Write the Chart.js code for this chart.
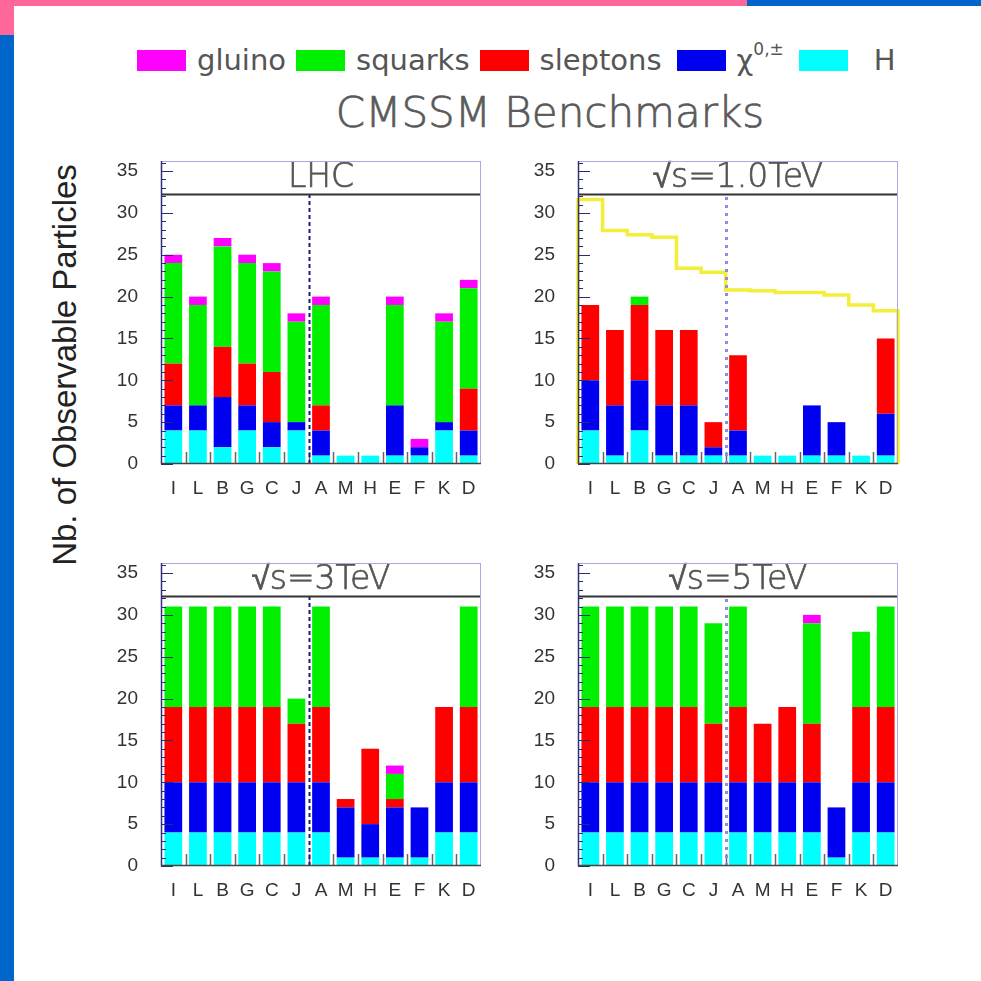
<!DOCTYPE html>
<html>
<head>
<meta charset="utf-8">
<script src="https://cdn.jsdelivr.net/npm/chart.js@4.4.1/dist/chart.umd.min.js"></script>
<style>
  html, body { margin: 0; padding: 0; background: #fff; }
  body { width: 981px; height: 981px; position: relative; overflow: hidden; }
  .bar { position: absolute; }
  .legend { position: absolute; left: 137px; top: 44px; display: flex; align-items: center;
            font-family: 'DejaVu Sans', sans-serif; font-size: 29px; color: #555; height: 32px; }
  .legend .sw { width: 49px; height: 21px; margin-right: 11px; }
  .legend .tx { margin-right: 10px; white-space: nowrap; }
  .legend sup { font-size: 17px; position: relative; top: -4px; }
  .main-title { position: absolute; left: 0; width: 1100px; top: 88px; text-align: center;
                font-family: 'DejaVu Sans', sans-serif; font-weight: 200; font-size: 42px; color: #5a5a5a;
                -webkit-text-stroke: 0.7px #5a5a5a; }
  .ytitle { position: absolute; left: 65px; top: 365px; transform: translate(-50%, -50%) rotate(-90deg);
            font-family: 'Liberation Sans', Arial, sans-serif; font-size: 33px; color: #222; white-space: nowrap; }
  .panel { position: absolute; }
</style>
</head>
<body>
<div class="bar" style="left:0;top:0;width:747px;height:6px;background:#ff6699"></div>
<div class="bar" style="left:747px;top:0;width:234px;height:6px;background:#0066cc"></div>
<div class="bar" style="left:0;top:0;width:14px;height:35px;background:#ff6699"></div>
<div class="bar" style="left:0;top:35px;width:14px;height:946px;background:#0066cc"></div>

<div class="legend">
  <div class="sw" style="background:#ff00ff"></div><span class="tx">gluino</span>
  <div class="sw" style="background:#00f000"></div><span class="tx">squarks</span>
  <div class="sw" style="background:#ff0000"></div><span class="tx" style="margin-right:15px">sleptons</span>
  <div class="sw" style="background:#0000f0"></div><span class="tx" style="margin-right:15px">χ<sup>0,±</sup></span>
  <div class="sw" style="background:#00ffff;margin-right:26px"></div><span class="tx">H</span>
</div>
<div class="main-title">CMSSM Benchmarks</div>
<div class="ytitle">Nb. of Observable Particles</div>

<div class="panel" style="left:91px;top:156px"><canvas id="pLHC" width="395" height="348"></canvas></div>
<div class="panel" style="left:508px;top:156px"><canvas id="p1TeV" width="395" height="348"></canvas></div>
<div class="panel" style="left:91px;top:558px"><canvas id="p3TeV" width="395" height="348"></canvas></div>
<div class="panel" style="left:508px;top:558px"><canvas id="p5TeV" width="395" height="348"></canvas></div>

<script>
// benchmark points, grouped: I..J | A..D
const categories = ['I', 'L', 'B', 'G', 'C', 'J', 'A', 'M', 'H', 'E', 'F', 'K', 'D'];
const groupSplit = 6; // first index of second group (A)
const yTicks = [0, 5, 10, 15, 20, 25, 30, 35];

// LHC
const lhcHiggs    = [4, 4, 2, 4, 2, 4, 1, 1, 1, 1, 1, 4, 1];
const lhcChi      = [3, 3, 6, 3, 3, 1, 3, 0, 0, 6, 1, 1, 3];
const lhcSleptons = [5, 0, 6, 5, 6, 0, 3, 0, 0, 0, 0, 0, 5];
const lhcSquarks  = [12, 12, 12, 12, 12, 12, 12, 0, 0, 12, 0, 12, 12];
const lhcGluino   = [1, 1, 1, 1, 1, 1, 1, 0, 0, 1, 1, 1, 1];

// sqrt(s) = 1.0 TeV
const tev1Higgs    = [4, 1, 4, 1, 1, 1, 1, 1, 1, 1, 1, 1, 1];
const tev1Chi      = [6, 6, 6, 6, 6, 1, 3, 0, 0, 6, 4, 0, 5];
const tev1Sleptons = [9, 9, 9, 9, 9, 3, 9, 0, 0, 0, 0, 0, 9];
const tev1Squarks  = [0, 0, 1, 0, 0, 0, 0, 0, 0, 0, 0, 0, 0];
const tev1Gluino   = [0, 0, 0, 0, 0, 0, 0, 0, 0, 0, 0, 0, 0];
// total particle count reference (yellow outline)
const tev1Total    = [31.6, 27.9, 27.4, 27.1, 23.4, 22.9, 20.8, 20.7, 20.5, 20.5, 20.2, 19.0, 18.3];

// sqrt(s) = 3 TeV
const tev3Higgs    = [4, 4, 4, 4, 4, 4, 4, 1, 1, 1, 1, 4, 4];
const tev3Chi      = [6, 6, 6, 6, 6, 6, 6, 6, 4, 6, 6, 6, 6];
const tev3Sleptons = [9, 9, 9, 9, 9, 7, 9, 1, 9, 1, 0, 9, 9];
const tev3Squarks  = [12, 12, 12, 12, 12, 3, 12, 0, 0, 3, 0, 0, 12];
const tev3Gluino   = [0, 0, 0, 0, 0, 0, 0, 0, 0, 1, 0, 0, 0];

// sqrt(s) = 5 TeV
const tev5Higgs    = [4, 4, 4, 4, 4, 4, 4, 4, 4, 4, 1, 4, 4];
const tev5Chi      = [6, 6, 6, 6, 6, 6, 6, 6, 6, 6, 6, 6, 6];
const tev5Sleptons = [9, 9, 9, 9, 9, 7, 9, 7, 9, 7, 0, 9, 9];
const tev5Squarks  = [12, 12, 12, 12, 12, 12, 12, 0, 0, 12, 0, 9, 12];
const tev5Gluino   = [0, 0, 0, 0, 0, 0, 0, 0, 0, 1, 0, 0, 0];

const colors = {
  higgs: '#00ffff',
  chi: '#0000f0',
  sleptons: '#ff0000',
  squarks: '#00f000',
  gluino: '#ff00ff'
};

const Y_MAX = 36.2;
const TITLE_LINE = 32.2;

// frame, title box, inner ticks and the group separator
const panelFrame = {
  id: 'panelFrame',
  afterDatasetsDraw(chart, args, opts) {
    const { ctx, chartArea: a, scales: { x, y } } = chart;
    ctx.save();

    // y ticks, inside the frame
    ctx.strokeStyle = '#2a2a70';
    ctx.lineWidth = 1;
    for (let v = 0; v <= 36; v++) {
      const py = Math.round(y.getPixelForValue(v)) + 0.5;
      const len = v % 5 === 0 ? 12 : 5;
      ctx.beginPath();
      ctx.moveTo(a.left, py);
      ctx.lineTo(a.left + len, py);
      ctx.stroke();
    }

    // x ticks on bin edges
    ctx.strokeStyle = '#666';
    ctx.lineWidth = 1.5;
    const y0 = y.getPixelForValue(0);
    for (let i = 1; i < categories.length; i++) {
      const px = Math.round((x.getPixelForValue(i - 1) + x.getPixelForValue(i)) / 2) + 0.5;
      ctx.beginPath();
      ctx.moveTo(px, y0);
      ctx.lineTo(px, y0 - 12);
      ctx.stroke();
    }

    // group separator
    const ty = y.getPixelForValue(TITLE_LINE);
    const sx = Math.round((x.getPixelForValue(groupSplit - 1) + x.getPixelForValue(groupSplit)) / 2) + 0.5;
    ctx.strokeStyle = opts.sepColor;
    ctx.lineWidth = opts.sepWidth;
    ctx.setLineDash(opts.sepDash);
    ctx.beginPath();
    ctx.moveTo(sx, y0);
    ctx.lineTo(sx, ty);
    ctx.stroke();
    ctx.setLineDash([]);

    // title box
    ctx.strokeStyle = '#333';
    ctx.lineWidth = 2;
    ctx.beginPath();
    ctx.moveTo(a.left, ty);
    ctx.lineTo(a.right, ty);
    ctx.stroke();
    const cx = (a.left + a.right) / 2;
    const cy = (a.top + ty) / 2 + 1;
    ctx.fillStyle = '#555';
    ctx.strokeStyle = '#555';
    ctx.lineWidth = 0.7;
    ctx.font = '200 33px "DejaVu Sans", sans-serif';
    ctx.textAlign = 'center';
    ctx.textBaseline = 'middle';
    ctx.fillText(opts.title, cx, cy);
    ctx.strokeText(opts.title, cx, cy);

    // frame
    ctx.strokeStyle = '#a8a8e8';
    ctx.lineWidth = 1;
    ctx.strokeRect(a.left + 0.5, a.top + 0.5, a.width - 1, a.height - 1);
    ctx.strokeStyle = '#30307a';
    ctx.lineWidth = 1.5;
    ctx.beginPath();
    ctx.moveTo(a.left + 0.5, a.top);
    ctx.lineTo(a.left + 0.5, a.bottom);
    ctx.stroke();
    ctx.strokeStyle = '#444';
    ctx.beginPath();
    ctx.moveTo(a.left, a.bottom - 0.5);
    ctx.lineTo(a.right, a.bottom - 0.5);
    ctx.stroke();

    ctx.restore();
  }
};

function stackSet(label, data, color) {
  return {
    type: 'bar',
    label: label,
    data: data,
    backgroundColor: color,
    borderWidth: 0,
    stack: 'all',
    grouped: false,
    categoryPercentage: 1.0,
    barPercentage: 0.72
  };
}

function makePanel(id, title, series, sep, outline) {
  const datasets = [
    stackSet('H', series[0], colors.higgs),
    stackSet('χ0,±', series[1], colors.chi),
    stackSet('sleptons', series[2], colors.sleptons),
    stackSet('squarks', series[3], colors.squarks),
    stackSet('gluino', series[4], colors.gluino)
  ];

  const scales = {
    x: {
      type: 'category',
      labels: categories,
      offset: true,
      grid: { display: false },
      border: { display: false },
      ticks: {
        color: '#333',
        padding: 5,
        maxRotation: 0,
        autoSkip: false,
        font: { family: "'Liberation Sans', Arial, sans-serif", size: 19 }
      },
      afterFit(scale) {
        scale.height = 40;
        scale.paddingLeft = 0;
        scale.paddingRight = 0;
      }
    },
    y: {
      min: 0,
      max: Y_MAX,
      stacked: true,
      grid: { display: false },
      border: { display: false },
      afterBuildTicks(scale) { scale.ticks = yTicks.map(v => ({ value: v })); },
      ticks: {
        color: '#333',
        padding: 15,
        font: { family: "'Liberation Sans', Arial, sans-serif", size: 19 }
      },
      afterFit(scale) {
        scale.width = 70;
        scale.paddingTop = 0;
        scale.paddingBottom = 0;
      }
    }
  };

  if (outline) {
    // step outline over bin edges, closed down to zero at both ends
    const pts = [{ x: -0.5, y: 0 }];
    outline.forEach((v, i) => pts.push({ x: i - 0.5, y: v }));
    pts.push({ x: outline.length - 0.5, y: 0 });
    datasets.push({
      type: 'line',
      label: 'total',
      data: pts,
      xAxisID: 'xl',
      borderColor: '#f2ee3a',
      borderWidth: 3.5,
      pointRadius: 0,
      stepped: 'before',
      fill: false,
      clip: 4
    });
    scales.xl = {
      type: 'linear', min: -0.5, max: categories.length - 0.5, display: false,
      afterFit(scale) { scale.height = 0; scale.paddingLeft = 0; scale.paddingRight = 0; }
    };
  }

  return new Chart(document.getElementById(id), {
    data: { labels: categories, datasets: datasets },
    options: {
      responsive: false,
      devicePixelRatio: 1,
      animation: false,
      layout: { padding: { top: 5, right: 5, left: 0, bottom: 0 } },
      scales: scales,
      plugins: {
        legend: { display: false },
        tooltip: { enabled: false },
        panelFrame: Object.assign({ title: title }, sep)
      }
    },
    plugins: [panelFrame]
  });
}

const darkSep = { sepColor: '#1c1c80', sepWidth: 2, sepDash: [4, 3] };
const lightSep = { sepColor: '#8c8ce0', sepWidth: 3, sepDash: [3, 5] };

makePanel('pLHC', 'LHC',
  [lhcHiggs, lhcChi, lhcSleptons, lhcSquarks, lhcGluino], darkSep);
makePanel('p1TeV', '√s=1.0TeV',
  [tev1Higgs, tev1Chi, tev1Sleptons, tev1Squarks, tev1Gluino], lightSep, tev1Total);
makePanel('p3TeV', '√s=3TeV',
  [tev3Higgs, tev3Chi, tev3Sleptons, tev3Squarks, tev3Gluino], darkSep);
makePanel('p5TeV', '√s=5TeV',
  [tev5Higgs, tev5Chi, tev5Sleptons, tev5Squarks, tev5Gluino], lightSep);
</script>
</body>
</html>
